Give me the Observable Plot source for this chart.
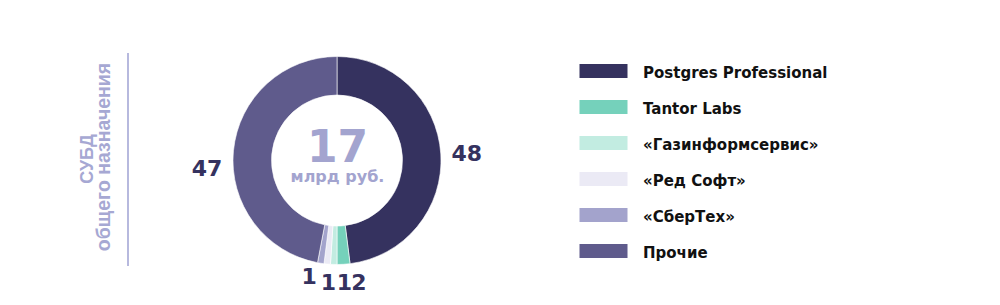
<!DOCTYPE html>
<html><head><meta charset="utf-8">
<script src="https://cdn.jsdelivr.net/npm/d3@7"></script>
<script src="https://cdn.jsdelivr.net/npm/@observablehq/plot@0.6"></script>
<style>
html,body{margin:0;padding:0;background:#fff;}
#chart{position:relative;width:1000px;height:305px;overflow:hidden;background:#fff;}
.side{position:absolute;white-space:nowrap;line-height:1;font-family:"Liberation Sans",Arial,sans-serif;font-weight:bold;color:#a6a8d3;transform:translate(-50%,-50%) rotate(-90deg);}
#t1{left:86.5px;top:158.5px;font-size:18px;}
#t2{left:104px;top:156.5px;font-size:19.5px;}
#rule{position:absolute;left:127px;top:53px;width:1.5px;height:213px;background:#b7b9de;}
#donut{position:absolute;left:167px;top:0;}
#legend{position:absolute;left:560px;top:0;}
</style></head><body>
<div id="chart">
  <div class="side" id="t1"></div>
  <div class="side" id="t2"></div>
  <div id="rule"></div>
  <div id="donut"></div>
  <div id="legend"></div>
</div>
<script>
// ---- data ----
const names = ["Postgres Professional", "Tantor Labs", "«Газинформсервис»", "«Ред Софт»", "«СберТех»", "Прочие"];
const shares = [48, 2, 1, 1, 1, 47];
const colors = ["#35325f", "#75d1bb", "#c2ece1", "#ebeaf5", "#a3a3cc", "#5f5b8c"];
const totalValue = "17";
const totalUnit = "млрд руб.";
const sideTitle = "СУБД";
const sideSubtitle = "общего назначения";

// ---- layout (label placement around the ring) ----
const labelRadius = [1.245, 1.19, 1.17, 1.18, 1.15, 1.257];
const labelNudge = [0.5, -6.4, -5.0, -1.1, 4.7, -8.8]; // degrees

document.getElementById("t1").textContent = sideTitle;
document.getElementById("t2").textContent = sideSubtitle;

const rows = names.map((name, i) => ({name, share: shares[i]}));
const arcs = d3.pie().sort(null).value(d => d.share)(rows);
const labels = arcs.map((a, i) => {
  const ang = (a.startAngle + a.endAngle) / 2 + labelNudge[i] * Math.PI / 180;
  const r = labelRadius[i];
  return {text: String(a.data.share), x: r * Math.sin(ang), y: -r * Math.cos(ang)};
});

const colorScale = Plot.scale({color: {type: "ordinal", domain: names, range: colors}});
const font = "'DejaVu Sans', Verdana, sans-serif";

const K = 104, W = 340, H = 305, CX = 170, CY = 160.5;
const donut = Plot.plot({
  width: W, height: H, margin: 0,
  x: {domain: [-CX / K, (W - CX) / K], range: [0, W], axis: null},
  y: {domain: [-CY / K, (H - CY) / K], range: [0, H], axis: null},
  style: {fontFamily: font, background: "transparent", overflow: "visible"},
  marks: [
    (index, scales) => {
      const cx = scales.x(0), cy = scales.y(0);
      const R = scales.x(1) - scales.x(0);
      const arc = d3.arc().innerRadius(R * 0.63).outerRadius(R);
      const g = d3.create("svg:g").attr("transform", `translate(${cx},${cy})`);
      g.selectAll("path").data(arcs).join("path")
        .attr("d", arc)
        .attr("fill", d => colorScale.apply(d.data.name))
        .attr("stroke", "#fff")
        .attr("stroke-width", 0.6);
      return g.node();
    },
    Plot.text(labels, {x: "x", y: "y", text: "text", fontSize: 22, fontWeight: "bold", fill: "#35325f"}),
    Plot.text([totalValue], {x: 0, y: -0.124, text: d => d, fontSize: 44, fontWeight: "bold", fill: "#a3a4cf"}),
    Plot.text([totalUnit], {x: 0, y: 0.155, text: d => d, fontSize: 16, fontWeight: "bold", fill: "#a3a4cf"})
  ]
});
document.getElementById("donut").appendChild(donut);

const legend = Plot.plot({
  width: 440, height: 305, margin: 0,
  x: {domain: [0, 1], range: [19.5, 67.5], axis: null},
  y: {type: "band", domain: names, range: [50.8, 271.4], paddingInner: 0.62, paddingOuter: 0.31, axis: null},
  color: {domain: names, range: colors},
  style: {fontFamily: font, background: "transparent", overflow: "visible"},
  marks: [
    Plot.barX(rows, {y: "name", x1: 0, x2: 1, fill: "name"}),
    Plot.text(rows, {y: "name", x: 1, dx: 15, dy: 2, text: "name", textAnchor: "start", fontSize: 15, fontWeight: "bold", fill: "#111"})
  ]
});
document.getElementById("legend").appendChild(legend);
</script>
</body></html>
